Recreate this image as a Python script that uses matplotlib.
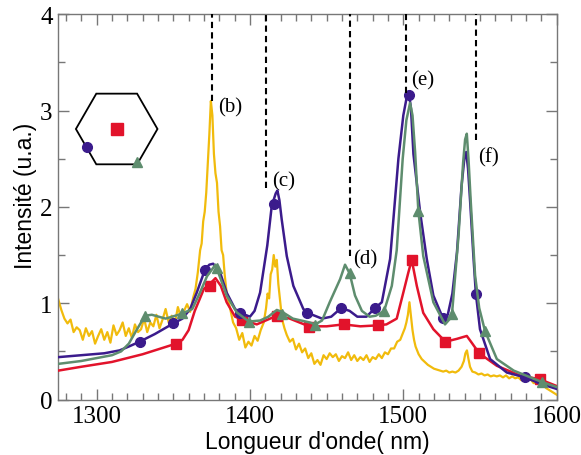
import matplotlib
matplotlib.use("Agg")
import matplotlib.pyplot as plt
from matplotlib.ticker import MultipleLocator
from matplotlib.patches import RegularPolygon

# ---- donnees ----
# spectre experimental (jaune, bruite)
yellow_nm = [1275, 1277, 1279, 1281, 1283, 1285, 1287, 1289, 1291, 1293, 1295, 1297, 1299,
             1301, 1303, 1305, 1307, 1309, 1311, 1313, 1315, 1317, 1319, 1321, 1323, 1325,
             1327, 1329, 1331, 1333, 1335, 1337, 1339, 1341, 1343, 1345, 1347, 1349, 1351,
             1353, 1355, 1357, 1359, 1361, 1363,
             1364.5, 1366, 1367.5, 1368.5, 1369.5, 1370.5, 1371.5, 1372.5, 1373.5, 1374.5,
             1375.5, 1376.5, 1377.5, 1378.5, 1379.5, 1380.5, 1381.5, 1382.5, 1383.5, 1384.5,
             1385.5,
             1387, 1389, 1391, 1393, 1395, 1397, 1399, 1401, 1403, 1405, 1407, 1409,
             1410.5, 1411.5, 1412.5, 1413.5, 1414.5, 1415.5, 1416.5, 1417.5, 1418.5, 1419.5,
             1420.5, 1421.5, 1422.5,
             1424, 1426, 1428, 1430, 1432, 1434, 1436, 1438, 1440, 1442, 1444, 1446, 1448,
             1450, 1452, 1454, 1456, 1458, 1460, 1462, 1464, 1466, 1468, 1470, 1472, 1474,
             1476, 1478, 1480, 1482, 1484, 1486, 1488, 1490, 1492, 1494, 1496, 1498, 1500,
             1501, 1502, 1503, 1504, 1505, 1506, 1507, 1508,
             1510, 1512, 1514, 1516, 1518, 1520, 1522, 1524, 1526, 1528, 1530, 1532, 1534,
             1536, 1538, 1539.5, 1540.5, 1541.5, 1542.5, 1543.5, 1545, 1547, 1549, 1551,
             1553, 1555, 1557, 1559, 1561, 1563, 1565, 1567, 1569, 1571, 1573, 1575, 1577,
             1579, 1581, 1583, 1585, 1587, 1589, 1591, 1593, 1595, 1597, 1600]
yellow_y = [1.04, 0.93, 0.84, 0.79, 0.83, 0.70, 0.75, 0.72, 0.62, 0.74, 0.66, 0.71, 0.58,
            0.66, 0.73, 0.62, 0.70, 0.59, 0.77, 0.67, 0.72, 0.80, 0.66, 0.74, 0.64, 0.78,
            0.70, 0.73, 0.84, 0.70, 0.80, 0.76, 0.88, 0.74, 0.83, 0.94, 0.80, 0.87, 0.79,
            0.96, 0.85, 0.92, 0.99, 0.91, 1.06,
            1.15, 1.32, 1.55, 1.62, 1.85, 1.95, 2.15, 2.45, 2.75, 3.10,
            2.95, 2.55, 2.35, 2.25, 1.95, 1.80, 1.55, 1.50, 1.30, 1.15,
            1.05,
            0.95, 0.80, 0.74, 0.62, 0.69, 0.54, 0.60, 0.56, 0.66, 0.61, 0.72, 0.80,
            0.95, 1.10, 1.05, 1.30, 1.35, 1.50, 1.38, 1.45, 1.20, 1.05,
            0.90, 0.80, 0.74,
            0.67, 0.60, 0.63, 0.52, 0.58, 0.49, 0.53, 0.43, 0.48, 0.37, 0.41, 0.36, 0.46,
            0.42, 0.48, 0.44, 0.47, 0.40, 0.45, 0.43, 0.49, 0.41, 0.46, 0.40, 0.44, 0.41,
            0.46, 0.39, 0.44, 0.42, 0.47, 0.43, 0.49, 0.47, 0.53, 0.53, 0.60, 0.62, 0.70,
            0.74, 0.80, 0.88, 1.01, 0.86, 0.72, 0.62, 0.55,
            0.47, 0.42, 0.39, 0.36, 0.34, 0.32, 0.31, 0.30, 0.29, 0.30, 0.28, 0.29, 0.28,
            0.30, 0.34, 0.40, 0.48, 0.51, 0.42, 0.34, 0.29, 0.28, 0.26, 0.27,
            0.25, 0.26, 0.24, 0.25, 0.24, 0.25, 0.23, 0.25, 0.22, 0.24, 0.22, 0.23, 0.20,
            0.22, 0.20, 0.21, 0.17, 0.19, 0.16, 0.16, 0.12, 0.10, 0.08, 0.05]

# courbe violette (cercles)
purple_nm = [1275, 1290, 1305, 1315, 1321, 1328, 1338, 1350, 1356, 1361, 1365.3, 1370.7,
             1373.5, 1376, 1380.5, 1384.8, 1390.3, 1393.5, 1400, 1403, 1406.6, 1411.3,
             1414.2, 1415.8, 1416.8, 1417.9, 1419.2, 1420.7, 1424, 1428.3, 1434.8, 1437.5,
             1447, 1453, 1459.5, 1465, 1470, 1476, 1481.6, 1486, 1491.4, 1496.8, 1500,
             1502, 1503.7, 1505, 1506.6, 1511, 1515.3, 1519.6, 1525.7, 1529, 1532, 1535,
             1538, 1539.8, 1541, 1542.2, 1543.6, 1545.7, 1547.3, 1550, 1556.6, 1567.5,
             1579.4, 1590, 1600]
purple_y = [0.44, 0.46, 0.48, 0.51, 0.55, 0.60, 0.68, 0.79, 0.84, 0.94, 1.11, 1.35,
            1.40, 1.41, 1.32, 1.11, 0.94, 0.90, 0.86, 0.92, 1.11, 1.60,
            2.01, 2.09, 2.14, 2.17, 2.07, 1.87, 1.49, 1.18, 0.94, 0.90,
            0.84, 0.86, 0.95, 0.92, 0.86, 0.86, 0.95, 1.01, 1.46, 2.50, 2.95,
            3.12, 3.18, 3.02, 2.55, 1.94, 1.46, 1.08, 0.85, 0.88, 1.10, 1.53,
            2.22, 2.50, 2.57, 2.40, 2.05, 1.49, 1.10, 0.73, 0.42, 0.28,
            0.23, 0.16, 0.11]
purple_mk_nm = [1328, 1349.6, 1370.7, 1393.5, 1415.5, 1437.5, 1459.5, 1481.6, 1503.8,
                1525.7, 1547.3, 1579.4]
purple_mk_y = [0.60, 0.79, 1.35, 0.90, 2.03, 0.90, 0.95, 0.95, 3.16, 0.85, 1.10, 0.23]

# courbe rouge (carres)
red_nm = [1275, 1290, 1310, 1330, 1351.8, 1356, 1360, 1364, 1367.4, 1370, 1373.8, 1377.5,
          1381, 1384.8, 1390.3, 1394.8, 1404.4, 1417.5, 1426, 1438.5, 1450, 1461, 1472,
          1483.3, 1489, 1495.7, 1500, 1503.3, 1505.5, 1508.8, 1513, 1519.6, 1527.5, 1535,
          1541.4, 1544.6, 1549.5, 1561, 1576, 1589, 1600]
red_y = [0.30, 0.34, 0.39, 0.47, 0.58, 0.62, 0.72, 0.92, 1.05, 1.15, 1.20, 1.26,
         1.18, 1.01, 0.86, 0.83, 0.78, 0.87, 0.84, 0.76, 0.76, 0.78, 0.76,
         0.77, 0.78, 0.84, 1.11, 1.32, 1.45, 1.18, 0.90, 0.73, 0.60, 0.63,
         0.66, 0.59, 0.48, 0.35, 0.25, 0.21, 0.14]
red_mk_nm = [1351.8, 1373.8, 1394.8, 1417.5, 1438.5, 1461, 1483.3, 1505.5, 1527.5, 1549.5,
             1589]
red_mk_y = [0.58, 1.18, 0.83, 0.87, 0.75, 0.78, 0.77, 1.45, 0.60, 0.48, 0.21]

# courbe verte (triangles)
green_nm = [1275, 1290, 1310, 1316, 1321, 1326, 1331.6, 1336, 1345, 1355.5, 1362.4,
            1367.4, 1372, 1377.5, 1384.8, 1391.4, 1399.3, 1406.6, 1412, 1417.5, 1421,
            1428, 1439, 1442.5, 1447, 1452, 1458.8, 1462, 1465, 1468.5, 1473, 1478, 1482,
            1487.5, 1492.5, 1495.7, 1499.6, 1502, 1504.4, 1506, 1507.7, 1509.8, 1513,
            1519.6, 1527.2, 1531.6, 1536, 1539, 1540.3, 1541.4, 1542.5, 1544, 1546.8,
            1549.5, 1553.3, 1561, 1572, 1590.7, 1600]
green_y = [0.37, 0.40, 0.46, 0.50, 0.58, 0.72, 0.87, 0.88, 0.84, 0.89, 0.94,
           1.11, 1.28, 1.40, 1.08, 0.905, 0.81, 0.82, 0.86, 0.93, 0.91,
           0.84, 0.80, 0.78, 0.82, 1.01, 1.25, 1.40, 1.31, 1.08, 0.92, 0.86, 0.87,
           0.92, 1.18, 1.55, 2.50, 2.90, 3.08, 2.95, 2.57, 1.96, 1.49,
           1.01, 0.78, 0.86, 1.70, 2.46, 2.70, 2.76, 2.50, 2.05, 1.29,
           0.95, 0.71, 0.42, 0.30, 0.18, 0.13]
green_mk_nm = [1331.6, 1355.5, 1378.3, 1399.3, 1421, 1442.5, 1465, 1487.5, 1509.8, 1531.6,
               1553.3, 1590.7]
green_mk_y = [0.87, 0.895, 1.37, 0.80, 0.89, 0.77, 1.31, 0.92, 1.96, 0.89, 0.71, 0.18]

# traits pointilles verticaux et etiquettes
dash_nm = [1375, 1410.5, 1465, 1501.5, 1547.5]
dash_bottom = [3.10, 2.20, 1.49, 3.18, 2.70]
label_txt = ["(b)", "(c)", "(d)", "(e)", "(f)"]
label_nm = [1379, 1414.5, 1467, 1505, 1549]
label_y = [3.04, 2.27, 1.46, 3.32, 2.52]

c_yellow = "#f1bb0c"
c_purple = "#3b1b8c"
c_red = "#e2132b"
c_green = "#5e8d6e"

fig = plt.figure(figsize=(5.81, 4.56), dpi=100)
ax = fig.add_axes([0.1003, 0.1217, 0.8578, 0.8447])

ax.plot(yellow_nm, yellow_y, color=c_yellow, lw=1.6, zorder=2)
ax.plot(red_nm, red_y, color=c_red, lw=1.8, zorder=3)
ax.plot(red_mk_nm, red_mk_y, "s", color=c_red, ms=6.5, zorder=3)
ax.plot(purple_nm, purple_y, color=c_purple, lw=1.8, zorder=4)
ax.plot(purple_mk_nm, purple_mk_y, "o", color=c_purple, ms=7, zorder=4)
ax.plot(green_nm, green_y, color=c_green, lw=1.8, zorder=5)
ax.plot(green_mk_nm, green_mk_y, "^", color=c_green, ms=7.5, zorder=5)

ax.vlines(dash_nm, dash_bottom, 4, colors="black", linestyles=(0, (3, 2)), lw=1.5, zorder=6)
for t, x, y in zip(label_txt, label_nm, label_y):
    ax.text(x, y, t, ha="left", va="center", fontsize=15, family="Liberation Serif")

ax.set_xlim(1275, 1600)
ax.set_ylim(0, 4)
ax.xaxis.set_major_locator(MultipleLocator(100))
ax.xaxis.set_minor_locator(MultipleLocator(10))
ax.yaxis.set_major_locator(MultipleLocator(1))
ax.yaxis.set_minor_locator(MultipleLocator(0.5))
ax.tick_params(which="both", direction="in", top=True, right=True, color="#777777")
ax.tick_params(which="major", length=8, width=1, labelsize=18, pad=4)
ax.tick_params(which="minor", length=5, width=1)
for lab in ax.get_xticklabels() + ax.get_yticklabels():
    lab.set_family("Liberation Serif")
for s in ax.spines.values():
    s.set_color("#777777")
    s.set_linewidth(1)

ax.set_xlabel("Longueur d'onde( nm)", fontsize=16.5, family="Liberation Sans")
ax.set_ylabel("Intensité (u.a.)", fontsize=16.5, family="Liberation Sans")
ax.xaxis.set_label_coords(0.52, -0.078)
ax.yaxis.set_label_coords(-0.043, 0.53)

# schema hexagonal en encart
ins = fig.add_axes([0.1148, 0.6053, 0.1721, 0.2193])
ins.set_xlim(-50, 50)
ins.set_ylim(-50, 50)
ins.set_aspect("equal")
ins.axis("off")
ins.add_patch(RegularPolygon((0, 0), 6, radius=40.8, orientation=0.5236,
                             fill=False, edgecolor="black", lw=1.3))
ins.plot([0], [0], "s", color=c_red, ms=8)
ins.plot([-30], [-18], "o", color=c_purple, ms=7)
ins.plot([20.4], [-33.5], "^", color=c_green, ms=7.5)

fig.savefig("out.png", dpi=100)
